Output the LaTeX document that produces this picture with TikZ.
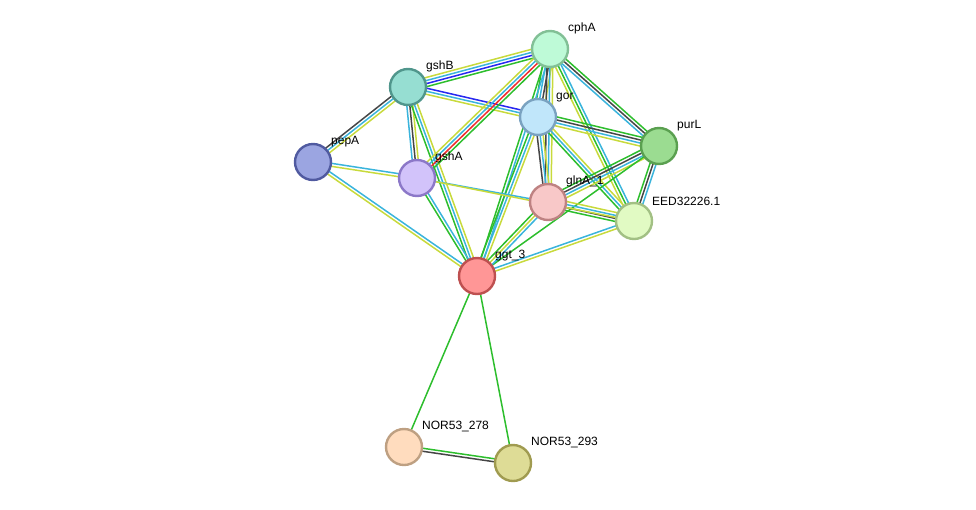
\documentclass[tikz,border=0pt]{standalone}
\usepackage{fontspec}
\setmainfont{Liberation Sans}
\usetikzlibrary{calc,backgrounds}

\definecolor{ty}{RGB}{200,218,60}
\definecolor{cy}{RGB}{58,180,220}
\definecolor{gr}{RGB}{45,190,45}
\definecolor{bk}{RGB}{70,70,70}
\definecolor{bl}{RGB}{40,40,240}
\definecolor{rd}{RGB}{240,45,45}

\tikzset{
	prot/.style={circle,minimum size=36pt,inner sep=0pt,line width=2.4pt},
	lbl/.style={font=\fontsize{12}{14}\selectfont,inner sep=1pt,label distance=3pt},
	edge/.style={line width=1.5pt}
}

% #1 from, #2 to, #3 number of lines, #4 colours
\newcommand\link[4]{%
	\foreach \c [count=\i] in {#4} {
		\pgfmathsetmacro\off{(\i-(#3+1)/2)*3}
		\draw[edge,\c] ($(#1)!\off pt!90:(#2)$) -- ($(#2)!\off pt!-90:(#1)$);
	}}

\begin{document}
\begin{tikzpicture}[x=1pt,y=-1pt]
	\useasboundingbox (0,0) rectangle (976,509);

	\node[prot,fill={rgb,255:red,190;green,250;blue,215},draw={rgb,255:red,130;green,192;blue,150},label={[lbl]40:cphA}] (cphA) at (550,49) {};
	\node[prot,fill={rgb,255:red,150;green,222;blue,210},draw={rgb,255:red,80;green,150;blue,140},label={[lbl]40:gshB}] (gshB) at (408,87) {};
	\node[prot,fill={rgb,255:red,192;green,230;blue,250},draw={rgb,255:red,122;green,162;blue,192},label={[lbl]40:gor}] (gor) at (538,117) {};
	\node[prot,fill={rgb,255:red,155;green,220;blue,145},draw={rgb,255:red,90;green,160;blue,80},label={[lbl]40:purL}] (purL) at (659,146) {};
	\node[prot,fill={rgb,255:red,155;green,165;blue,225},draw={rgb,255:red,80;green,90;blue,160},label={[lbl]40:pepA}] (pepA) at (313,162) {};
	\node[prot,fill={rgb,255:red,210;green,195;blue,250},draw={rgb,255:red,140;green,120;blue,200},label={[lbl]40:gshA}] (gshA) at (417,178) {};
	\node[prot,fill={rgb,255:red,248;green,200;blue,200},draw={rgb,255:red,190;green,130;blue,130},label={[lbl]40:glnA\_1}] (glnA) at (548,202) {};
	\node[prot,fill={rgb,255:red,225;green,250;blue,195},draw={rgb,255:red,162;green,192;blue,132},label={[lbl]40:EED32226.1}] (eed) at (634,221) {};
	\node[prot,fill={rgb,255:red,255;green,150;blue,150},draw={rgb,255:red,190;green,80;blue,80},label={[lbl]40:ggt\_3}] (ggt) at (477,276) {};
	\node[prot,fill={rgb,255:red,255;green,220;blue,190},draw={rgb,255:red,190;green,160;blue,130},label={[lbl]40:NOR53\_278}] (nor278) at (404,447) {};
	\node[prot,fill={rgb,255:red,222;green,220;blue,150},draw={rgb,255:red,160;green,155;blue,80},label={[lbl]40:NOR53\_293}] (nor293) at (513,463) {};

	\begin{pgfonlayer}{background}
		\link{gshB}{cphA}{4}{gr,bl,cy,ty}
		\link{gshB}{gor}{3}{ty,cy,bl}
		\link{pepA}{gshB}{3}{ty,cy,bk}
		\link{gshB}{gshA}{3}{cy,bk,ty}
		\link{gshB}{ggt}{3}{gr,cy,ty}
		\link{gshA}{cphA}{4}{gr,rd,cy,ty}
		\link{cphA}{gor}{4}{gr,cy,bk,ty}
		\link{cphA}{glnA}{3}{bk,cy,ty}
		\link{cphA}{purL}{3}{cy,bk,gr}
		\link{cphA}{eed}{3}{ty,gr,cy}
		\link{cphA}{ggt}{2}{gr,cy}
		\link{gor}{purL}{4}{ty,cy,bk,gr}
		\link{gor}{glnA}{3}{bk,cy,ty}
		\link{gor}{eed}{3}{gr,cy,ty}
		\link{gor}{ggt}{3}{gr,cy,ty}
		\link{glnA}{purL}{4}{ty,cy,bk,gr}
		\link{purL}{eed}{3}{gr,bk,cy}
		\link{purL}{ggt}{1}{gr}
		\link{glnA}{eed}{4}{gr,bk,cy,ty}
		\link{ggt}{glnA}{3}{cy,ty,gr}
		\link{ggt}{eed}{2}{ty,cy}
		\link{pepA}{gshA}{2}{ty,cy}
		\link{pepA}{ggt}{2}{ty,cy}
		\link{gshA}{glnA}{1}{cy}
		\link{gshA}{eed}{1}{ty}
		\link{gshA}{ggt}{2}{gr,cy}
		\link{ggt}{nor278}{1}{gr}
		\link{ggt}{nor293}{1}{gr}
		\link{nor278}{nor293}{2}{bk,gr}
	\end{pgfonlayer}

\end{tikzpicture}
\end{document}
